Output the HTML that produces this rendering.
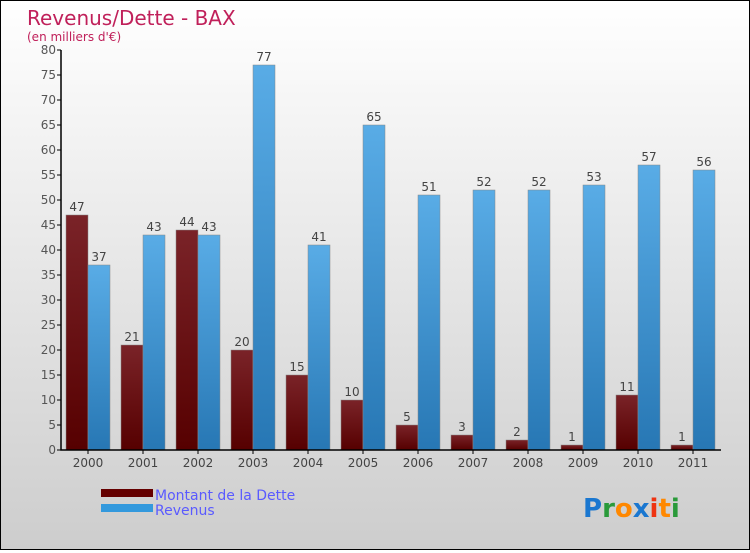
<!DOCTYPE html>
<html><head><meta charset="utf-8"><style>
body{margin:0}
#c{width:748px;height:548px;border:1px solid #000;background:linear-gradient(#fff,#cdcdcd);position:relative;font-family:"DejaVu Sans","Liberation Sans",sans-serif}
</style></head><body>
<div id="c">
<svg id="s" width="748" height="548">
<defs>
<linearGradient id="gd" x1="0" y1="0" x2="0" y2="1"><stop offset="0" stop-color="#7a2328"/><stop offset="1" stop-color="#560000"/></linearGradient>
<linearGradient id="gr" x1="0" y1="0" x2="0" y2="1"><stop offset="0" stop-color="#59ace6"/><stop offset="1" stop-color="#2777b4"/></linearGradient>
</defs>
<text x="26" y="24" font-size="20" fill="#c0205a">Revenus/Dette - BAX</text>
<text x="26" y="40" font-size="12" fill="#c0205a">(en milliers d'€)</text>
<g id="g"></g>
<rect x="100" y="488" width="52" height="8" fill="#650000"/>
<text x="154" y="499" font-size="14" fill="#5a5aff">Montant de la Dette</text>
<rect x="100" y="503" width="52" height="8" fill="#3399dd"/>
<text x="154" y="514" font-size="14" fill="#5a5aff">Revenus</text>
<text x="582" y="516" font-size="26" font-weight="bold"><tspan fill="#1a77d0">P</tspan><tspan fill="#2a9a3a">r</tspan><tspan fill="#ff8800">o</tspan><tspan fill="#1a77d0">x</tspan><tspan fill="#ee3311">i</tspan><tspan fill="#ff8800">t</tspan><tspan fill="#2a9a3a">i</tspan></text>
</svg></div>
<script>
const years=["2000","2001","2002","2003","2004","2005","2006","2007","2008","2009","2010","2011"];
const dette=[47,21,44,20,15,10,5,3,2,1,11,1];
const revenus=[37,43,43,77,41,65,51,52,52,53,57,56];
const ticks=[0,5,10,15,20,25,30,35,40,45,50,55,60,65,70,75,80];
const NS="http://www.w3.org/2000/svg";
const g=document.getElementById('g');
const x0=60,y0=449,k=5,step=55,bw=22;
const y=v=>y0-v*k, cx=i=>x0+27+i*step;
function mk(t,a,p){const e=document.createElementNS(NS,t);for(const q in a)e.setAttribute(q,a[q]);(p||g).appendChild(e);return e;}
ticks.forEach(t=>{
 const l=mk('line',{x1:x0-4,x2:x0,y1:y(t),y2:y(t),stroke:'#000'});
 
 
 const tx=mk('text',{x:x0-5,y:y(t)+4,'font-size':12,fill:'#555','text-anchor':'end'});
 tx.textContent=t;
 
 
});
years.forEach((yr,i)=>{
 const c=cx(i);
 [[dette[i],c-bw,'url(#gd)','bar-dette'],[revenus[i],c,'url(#gr)','bar-revenus']].forEach(([v,x,f,n])=>{
  const r=mk('rect',{x:x,y:y(v),width:bw,height:v*k,fill:f,stroke:'#888','stroke-width':0.5});
  
  
  const t=mk('text',{x:x+bw/2,y:y(v)-4,'font-size':12,fill:'#444','text-anchor':'middle'});
  t.textContent=v;
  
  
 });
 const tk=mk('line',{x1:c,x2:c,y1:y0,y2:y0+4,stroke:'#000'});
 
 
 const lt=mk('text',{x:c,y:y0+17,'font-size':12,fill:'#444','text-anchor':'middle'});
 lt.textContent=yr;
 
 
});
const ax=mk('path',{d:`M${x0} ${y(80)}V${y0}H${x0+12*step}`,stroke:'#000',fill:'none','stroke-width':1.5});


</script>
</body></html>
